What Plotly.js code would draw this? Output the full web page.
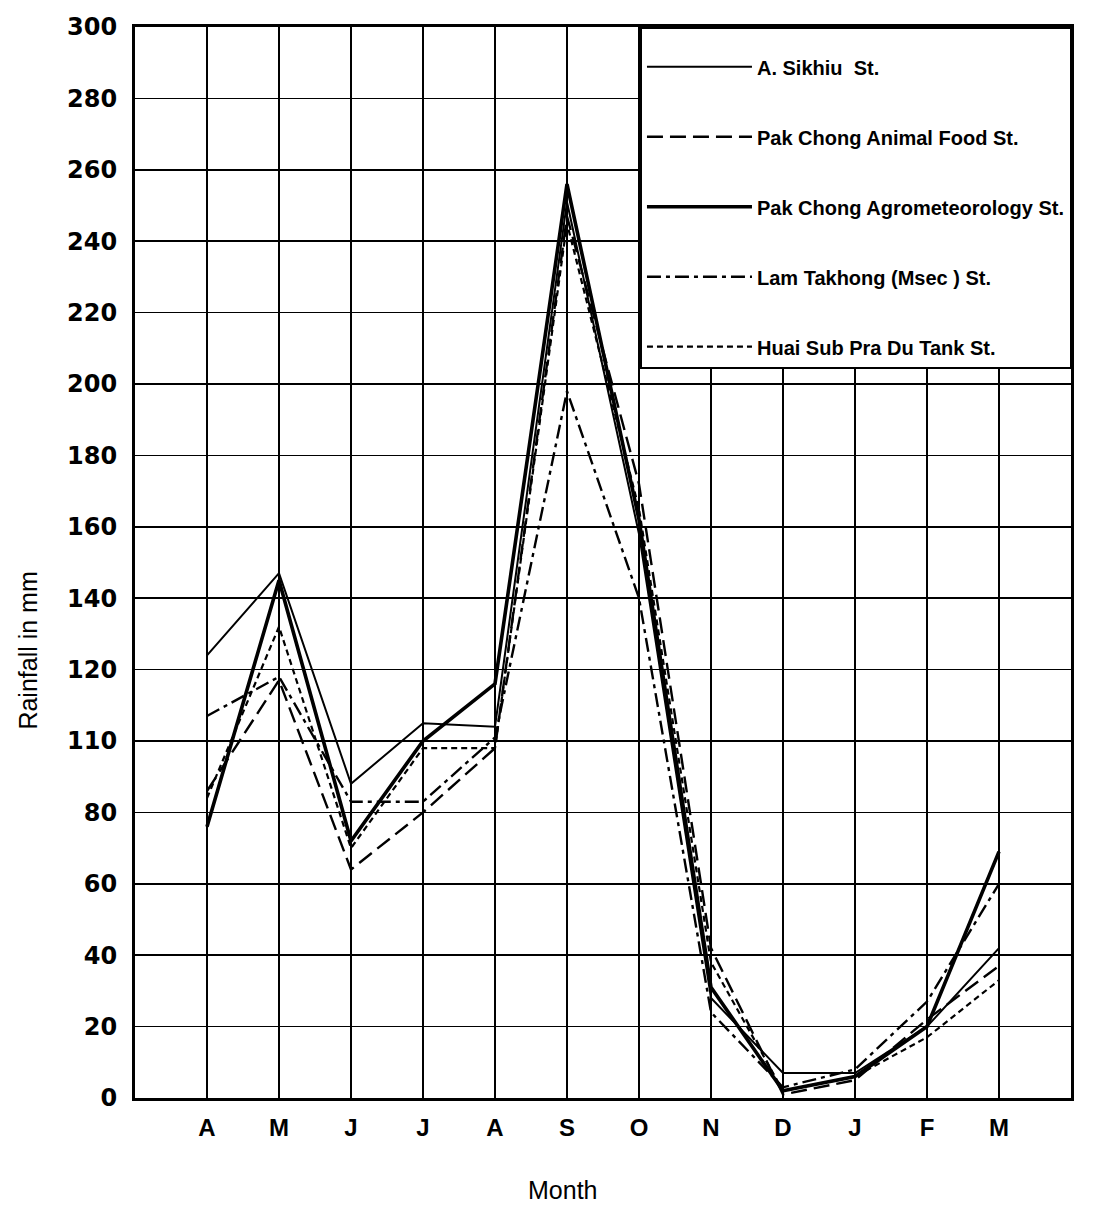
<!DOCTYPE html>
<html>
<head>
<meta charset="utf-8">
<script src="https://cdn.plot.ly/plotly-3.0.1.min.js"></script>
<style>
  html, body { margin: 0; padding: 0; background: #fff; }
  #chart { width: 1109px; height: 1206px; }
</style>
</head>
<body>
<div id="chart"></div>
<script>
// Month positions (hydrological year April..March)
const monthPos = [1, 2, 3, 4, 5, 6, 7, 8, 9, 10, 11, 12];
const monthLabels = ["A", "M", "J", "J", "A", "S", "O", "N", "D", "J", "F", "M"];

// Y tick labels as printed (the original prints "110" at the 100 line)
const yTickVals = [0, 20, 40, 60, 80, 100, 120, 140, 160, 180, 200, 220, 240, 260, 280, 300];
const yTickText = ["0", "20", "40", "60", "80", "110", "120", "140", "160", "180", "200", "220", "240", "260", "280", "300"];

// Rainfall in mm
const sikhiu      = [124, 147, 88, 105, 104, 251, 158, 28, 7, 7, 20, 42];
const animalFood  = [86, 117, 64, 80, 98, 247, 172, 42, 1, 5, 22, 37];
const agromet     = [76, 145, 72, 100, 116, 256, 162, 31, 2, 6, 20, 69];
const lamTakhong  = [107, 118, 83, 83, 101, 198, 140, 24, 3, 8, 27, 60];
const huaiSub     = [84, 132, 70, 98, 98, 245, 165, 38, 2, 6, 17, 33];

const seriesNames = [
  "A. Sikhiu  St.",
  "Pak Chong Animal Food St.",
  "Pak Chong Agrometeorology St.",
  "Lam Takhong (Msec ) St.",
  "Huai Sub Pra Du Tank St."
];

function mk(y, name, width, dash, grp) {
  return {
    x: monthPos, y: y, name: name, type: "scatter", mode: "lines",
    line: { color: "#000", width: width, dash: dash },
    legendgroup: grp, hoverinfo: "skip"
  };
}

const data = [
  mk(sikhiu, seriesNames[0], 2, "solid", "g1"),
  mk(animalFood, seriesNames[1], 2.4, "16px,7px", "g2"),
  mk(agromet, seriesNames[2], 3.6, "solid", "g3"),
  mk(lamTakhong, seriesNames[3], 2.4, "14px,5px,4px,5px", "g4"),
  mk(huaiSub, seriesNames[4], 2.2, "6px,4px", "g5")
];

const layout = {
  width: 1109, height: 1206,
  margin: { l: 135, r: 38, t: 27, b: 108 },
  paper_bgcolor: "#fff", plot_bgcolor: "#fff",
  showlegend: true,
  legend: {
    x: 0.5395, y: 1, xanchor: "left", yanchor: "top",
    bgcolor: "#fff", bordercolor: "#000", borderwidth: 2,
    font: { family: "Liberation Sans, Arial, sans-serif", size: 20, color: "#000", weight: "bold" },
    title: { text: " ", font: { size: 14 } },
    tracegroupgap: 41, itemwidth: 105, traceorder: "grouped"
  },
  xaxis: {
    range: [0, 13], tickmode: "array", tickvals: monthPos, ticktext: monthLabels,
    showgrid: true, gridcolor: "#000", gridwidth: 1.6,
    zeroline: false, showline: true, linecolor: "#000", linewidth: 3, mirror: true,
    ticks: "", ticklabelstandoff: 6,
    tickfont: { family: "Liberation Sans, Arial, sans-serif", size: 24, color: "#000", weight: "bold" },
    fixedrange: true
  },
  yaxis: {
    range: [0, 300], tickmode: "array", tickvals: yTickVals, ticktext: yTickText,
    showgrid: true, gridcolor: "#000", gridwidth: 1.6,
    zeroline: false, showline: true, linecolor: "#000", linewidth: 3, mirror: true,
    ticks: "", ticklabelstandoff: 10,
    tickfont: { family: "DejaVu Sans, sans-serif", size: 24, color: "#000", weight: "bold" },
    fixedrange: true
  },
  annotations: [
    { text: "Month", xref: "paper", yref: "paper", x: 0.457, y: -0.086,
      xanchor: "center", yanchor: "middle", showarrow: false,
      font: { family: "Liberation Sans, Arial, sans-serif", size: 25, color: "#000" } },
    { text: "Rainfall in mm", xref: "paper", yref: "paper", x: -0.114, y: 0.418,
      xanchor: "center", yanchor: "middle", showarrow: false, textangle: -90,
      font: { family: "Liberation Sans, Arial, sans-serif", size: 25, color: "#000" } }
  ]
};

Plotly.newPlot("chart", data, layout, { displayModeBar: false, staticPlot: true });
</script>
</body>
</html>
